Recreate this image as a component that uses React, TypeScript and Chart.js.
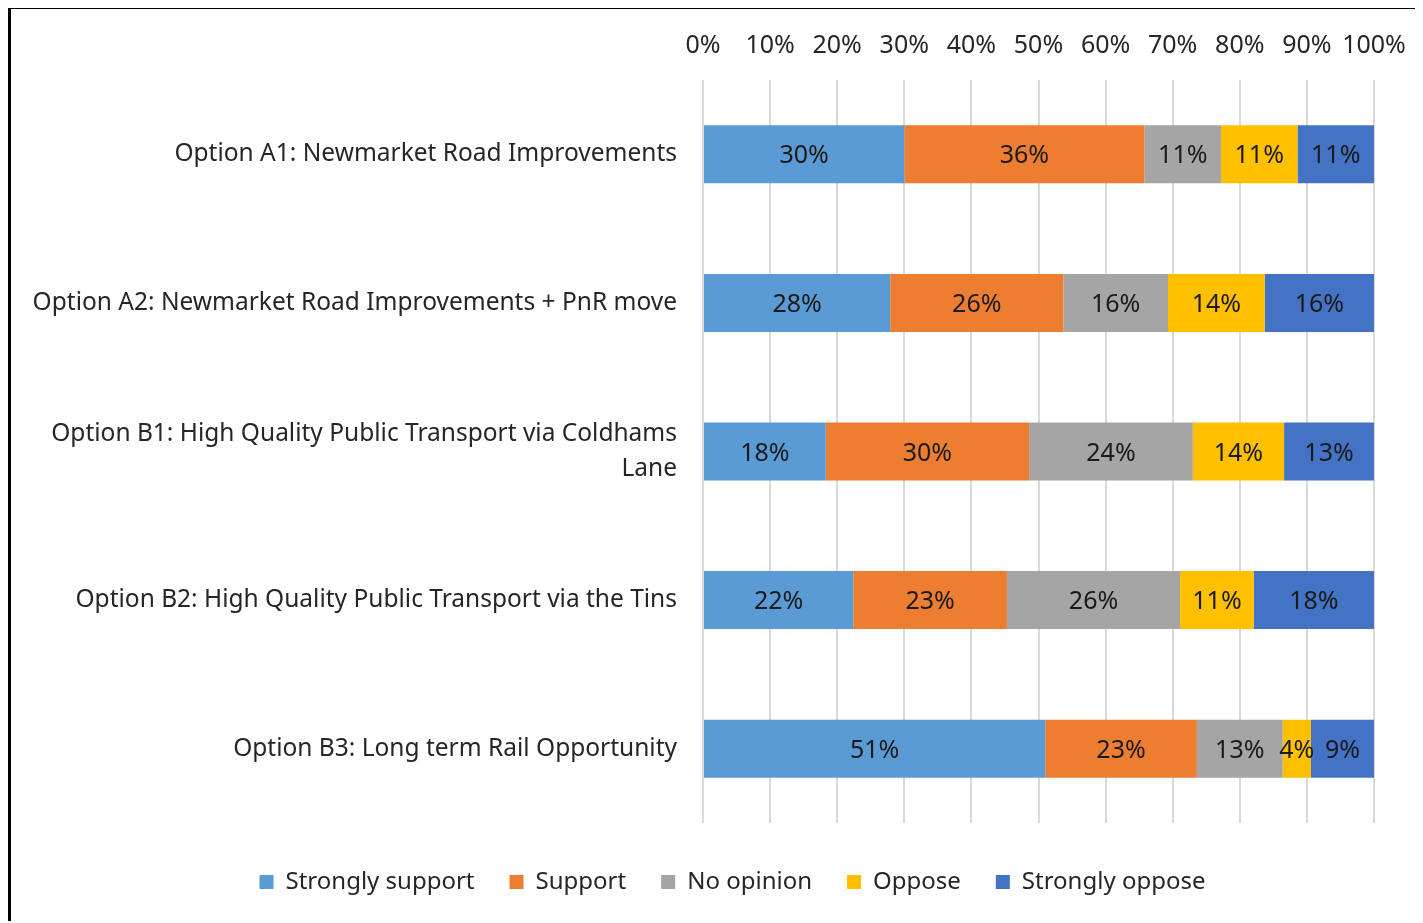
import React, { useEffect, useRef } from "react";
import { Chart, registerables } from "chart.js";

Chart.register(...registerables);

const categories: (string | string[])[] = [
  "Option A1: Newmarket Road Improvements",
  "Option A2: Newmarket Road Improvements + PnR move",
  ["Option B1: High Quality Public Transport via Coldhams", "Lane"],
  "Option B2: High Quality Public Transport via the Tins",
  "Option B3: Long term Rail Opportunity",
];

const seriesNames = ["Strongly support", "Support", "No opinion", "Oppose", "Strongly oppose"];
const seriesColors = ["#5B9BD5", "#ED7D31", "#A5A5A5", "#FFC000", "#4472C4"];

const stronglySupport = [30.0, 27.9, 18.3, 22.4, 51.0];
const support = [35.8, 25.8, 30.3, 22.9, 22.6];
const noOpinion = [11.4, 15.6, 24.4, 25.8, 12.8];
const oppose = [11.4, 14.4, 13.6, 11.0, 4.2];
const stronglyOppose = [11.4, 16.3, 13.4, 17.9, 9.4];

const FONT = "'Noto Sans', 'Open Sans', sans-serif";
const TEXT = "#262626";

const labelPlugin = {
  id: "segLabels",
  afterDatasetsDraw(chart: any) {
    const ctx = chart.ctx;
    ctx.save();
    ctx.font = `25px ${FONT}`;
    ctx.fillStyle = "#1a1a1a";
    ctx.textAlign = "center";
    ctx.textBaseline = "middle";
    chart.data.datasets.forEach((ds: any, di: number) => {
      const meta = chart.getDatasetMeta(di);
      meta.data.forEach((el: any, i: number) => {
        const v = ds.data[i];
        const cx = (el.x + el.base) / 2;
        ctx.fillText(Math.round(v) + "%", cx, el.y + 2);
      });
    });
    ctx.restore();
  },
};

const legendShift = {
  id: "legendShift",
  afterLayout(chart: any) {
    if (chart.legend) {
      chart.legend.left += 80;
      if (chart.legend.adjustHitBoxes) chart.legend.adjustHitBoxes();
    }
  },
};

export default function App() {
  const ref = useRef<HTMLCanvasElement>(null);
  useEffect(() => {
    const seriesData = [stronglySupport, support, noOpinion, oppose, stronglyOppose];
    const chart = new Chart(ref.current!, {
      type: "bar",
      data: {
        labels: categories,
        datasets: seriesNames.map((name, i) => ({
          label: name,
          data: seriesData[i],
          backgroundColor: seriesColors[i],
          borderWidth: 0,
          categoryPercentage: 1,
          barPercentage: 0.39,
        })),
      },
      options: {
        indexAxis: "y",
        animation: false,
        responsive: false,
        maintainAspectRatio: false,
        layout: { padding: { top: 0, right: 49, left: 0, bottom: 17 } },
        scales: {
          x: {
            position: "top",
            stacked: true,
            min: 0,
            max: 100,
            ticks: {
              stepSize: 10,
              color: TEXT,
              font: { family: FONT, size: 25 },
              padding: 19,
              maxRotation: 0,
              minRotation: 0,
              autoSkip: false,
              callback: (v: any) => v + "%",
            },
            grid: { color: "#D9D9D9", lineWidth: 2, drawTicks: false },
            border: { display: false },
            afterFit: (s: any) => {
              s.height = 71;
              s.paddingLeft = 0;
              s.paddingRight = 0;
            },
          },
          x2: {
            type: "linear",
            position: "bottom",
            min: 0,
            max: 1,
            display: true,
            ticks: { display: false },
            grid: { display: false, drawTicks: false },
            border: { display: false },
            afterFit: (s: any) => {
              s.height = 12;
            },
          },
          y: {
            stacked: true,
            ticks: {
              color: TEXT,
              font: { family: FONT, size: 24.5, lineHeight: 1.4 },
              padding: 26,
            },
            grid: { display: false, drawTicks: false },
            border: { display: false },
            afterFit: (s: any) => {
              s.width = 692;
            },
          },
        },
        plugins: {
          legend: {
            position: "bottom",
            labels: {
              color: TEXT,
              font: { family: FONT, size: 24 },
              boxWidth: 14,
              boxHeight: 14,
              padding: 35,
            },
          },
          tooltip: { enabled: false },
        },
      },
      plugins: [labelPlugin, legendShift],
    });
    return () => chart.destroy();
  }, []);
  return (
    <div
      style={{
        width: 1412,
        height: 912,
        borderLeft: "3px solid #000",
        borderTop: "3px solid #000",
        position: "relative",
        top: -2,
      }}
    >
      <canvas ref={ref} width={1412} height={912} style={{ display: "block" }} />
    </div>
  );
}
